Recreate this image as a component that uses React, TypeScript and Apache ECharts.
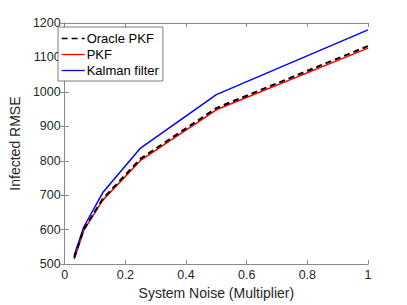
import React, { useEffect, useRef } from "react";
import * as echarts from "echarts";

const noiseLevels = [0.03125, 0.0625, 0.125, 0.25, 0.5, 1];
const oraclePkf = [519, 600, 689, 806, 953, 1133];
const pkf = [515, 597, 685, 801, 948, 1127];
const kalman = [525, 607, 707, 837, 992, 1180];
const seriesNames = ["Oracle PKF", "PKF", "Kalman filter"];
const xTickLabels = ["0", "0.2", "0.4", "0.6", "0.8", "1"];

const FONT = "'Liberation Sans', Arial, Helvetica, sans-serif";
const TEXT = "#262626";
const AXIS = "#8a8a8a";

export default function App() {
  const ref = useRef<HTMLDivElement>(null);
  useEffect(() => {
    if (!ref.current) return;
    const chart = echarts.init(ref.current, undefined, { renderer: "svg" });
    const pair = (ys: number[]) => noiseLevels.map((x, i) => [x, ys[i]]);
    const xLabel = (v: number) => {
      const idx = Math.round(v / 0.2);
      return xTickLabels[idx] ?? String(v);
    };
    const baseX = {
      type: "value" as const,
      min: 0,
      max: 1,
      interval: 0.2,
      axisLine: { show: true, lineStyle: { color: AXIS, width: 1 } },
      axisTick: { show: true, inside: true, length: 4, lineStyle: { color: AXIS } },
      splitLine: { show: false },
    };
    const baseY = {
      type: "value" as const,
      min: 500,
      max: 1200,
      interval: 100,
      axisLine: { show: true, lineStyle: { color: AXIS, width: 1 } },
      axisTick: { show: true, inside: true, length: 4, lineStyle: { color: AXIS } },
      splitLine: { show: false },
    };
    chart.setOption({
      animation: false,
      backgroundColor: "#fff",
      textStyle: { fontFamily: FONT },
      grid: { left: 52, right: 39, top: 23, bottom: 38, containLabel: false },
      legend: {
        orient: "vertical",
        left: 58,
        top: 27,
        data: seriesNames,
        backgroundColor: "#fff",
        borderColor: TEXT,
        borderWidth: 0.6,
        borderRadius: 0,
        padding: [5, 4, 4, 3],
        itemWidth: 23,
        itemHeight: 13,
        itemGap: 3,
        itemStyle: { opacity: 0, borderWidth: 0 },
        lineStyle: { width: 1.3 },
        textStyle: { fontFamily: FONT, fontSize: 13, color: "#000", padding: [0, 0, 0, -3] },
      },
      xAxis: [
        {
          ...baseX,
          position: "bottom",
          name: "System Noise (Multiplier)",
          nameLocation: "middle",
          nameGap: 14,
          nameTextStyle: { fontFamily: FONT, fontSize: 14, color: TEXT },
          axisLabel: { color: TEXT, fontSize: 12.5, fontFamily: FONT, margin: 4, formatter: xLabel },
        },
        { ...baseX, position: "top", axisLabel: { show: false } },
      ],
      yAxis: [
        {
          ...baseY,
          position: "left",
          name: "Infected RMSE",
          nameLocation: "middle",
          nameGap: 35,
          nameTextStyle: { fontFamily: FONT, fontSize: 14, color: TEXT },
          axisLabel: { color: TEXT, fontSize: 12.5, fontFamily: FONT, margin: 4, formatter: (v: number) => String(v) },
        },
        { ...baseY, position: "right", axisLabel: { show: false } },
      ],
      series: [
        {
          name: seriesNames[0],
          type: "line",
          data: pair(oraclePkf),
          symbol: "none",
          z: 4,
          lineStyle: { color: "#000", width: 2, type: [6, 4] },
          itemStyle: { color: "#000" },
        },
        {
          name: seriesNames[1],
          type: "line",
          data: pair(pkf),
          symbol: "none",
          z: 3,
          lineStyle: { color: "#ff0000", width: 1.5 },
          itemStyle: { color: "#ff0000" },
        },
        {
          name: seriesNames[2],
          type: "line",
          data: pair(kalman),
          symbol: "none",
          z: 3,
          lineStyle: { color: "#0000ff", width: 1.5 },
          itemStyle: { color: "#0000ff" },
        },
      ],
    });
    return () => chart.dispose();
  }, []);
  return <div ref={ref} style={{ width: 407, height: 305, position: "absolute", left: 0, top: 0 }} />;
}
